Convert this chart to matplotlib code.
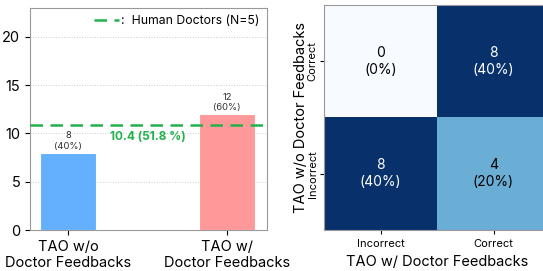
import matplotlib
matplotlib.use("Agg")
import matplotlib.pyplot as plt
import numpy as np

plt.rcParams['font.family'] = ['Inter', 'DejaVu Sans']

# Data
categories = ["TAO w/o\nDoctor Feedbacks", "TAO w/\nDoctor Feedbacks"]
bar_values = [8, 12]
bar_pcts = [40, 60]
human_line = 10.9
human_label_value = 10.4
human_label_pct = 51.8
legend_label = ":  Human Doctors (N=5)"

cm_rows = ["Correct", "Incorrect"]   # TAO w/o
cm_cols = ["Incorrect", "Correct"]   # TAO w/
cm_values = np.array([[0, 8], [8, 4]])
cm_total = 20

fig = plt.figure(figsize=(5.43, 2.71), dpi=100)
W, H = 543, 271

# Left bar chart
ax = fig.add_axes([30 / W, 1 - 230 / H, 237 / W, 222 / H])
x = np.arange(len(categories))
colors = ["#64B0FF", "#FF9999"]
ax.bar(x, bar_values, width=0.35, color=colors, edgecolor="white", linewidth=0.8, zorder=3)
for xi, v, p in zip(x, bar_values, bar_pcts):
    ax.text(xi, v + 0.2, f"{v}\n({p}%)", ha="center", va="bottom", fontsize=6.8, color="#333333")
ax.axhline(human_line, color="#22B14C", linestyle=(0, (5, 3)), linewidth=1.8, zorder=4,
           label=legend_label)
ax.text(0.5, 9.65, f"{human_label_value} ({human_label_pct} %)", ha="center", va="center",
        fontsize=8.5, fontweight="bold", color="#22B14C")
ax.set_xlim(-0.24, 1.25)
ax.set_ylim(0, 23)
ax.set_yticks([0, 5, 10, 15, 20])
ax.set_xticks(x)
ax.set_xticklabels(categories, fontsize=10.5)
ax.tick_params(axis="y", labelsize=10.5)
ax.yaxis.grid(True, linestyle=":", color="#CCCCCC", linewidth=0.7, zorder=0)
for s in ax.spines.values():
    s.set_color("#999999")
leg = ax.legend(loc="upper right", frameon=False, fontsize=8.8, handlelength=2.0,
                handletextpad=0.2, borderaxespad=0.2)

# Right heatmap
ax2 = fig.add_axes([324 / W, 1 - 230 / H, 226 / W, 225 / H])
ax2.imshow(cm_values, cmap="Blues", vmin=0, vmax=8, aspect="auto")
for i in range(2):
    for j in range(2):
        v = cm_values[i, j]
        c = "white" if v >= 6 else "black"
        ax2.text(j, i, f"{v}\n({v * 100 // cm_total}%)", ha="center", va="center",
                 fontsize=10, color=c, linespacing=1.3)
ax2.set_xticks([0, 1])
ax2.set_xticklabels(cm_cols, fontsize=8)
ax2.set_yticks([0, 1])
ax2.set_yticklabels(cm_rows, fontsize=8, rotation=90, va="center")
ax2.tick_params(axis="y", pad=1.5, length=3)
ax2.tick_params(axis="x", length=3)
ax2.set_xlabel("TAO w/ Doctor Feedbacks", fontsize=10.5, labelpad=4)
ax2.set_ylabel("TAO w/o Doctor Feedbacks", fontsize=10.5, labelpad=0)
for s in ax2.spines.values():
    s.set_color("#999999")

fig.savefig("out.png", dpi=100)
